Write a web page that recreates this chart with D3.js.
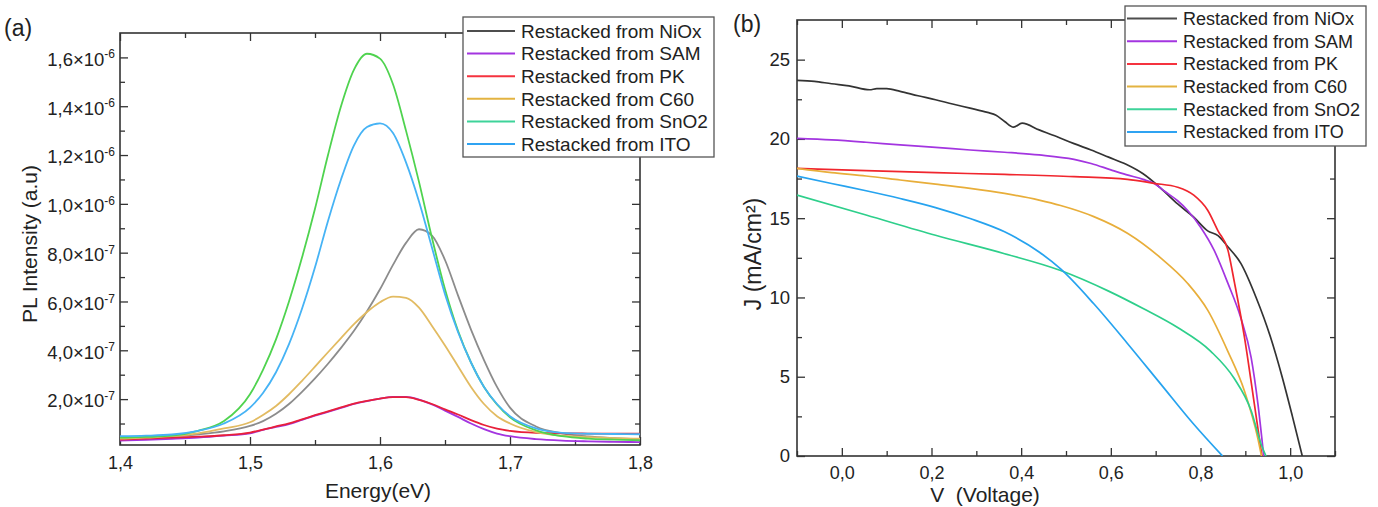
<!DOCTYPE html>
<html>
<head>
<meta charset="utf-8">
<script src="https://cdn.jsdelivr.net/npm/d3@7"></script>
<style>
  body { margin: 0; background: #fff; }
  svg text { font-family: 'Liberation Sans', Arial, sans-serif; fill: #222; }
</style>
</head>
<body>
<svg id="chart" width="1378" height="507"></svg>
<script>
'use strict'

// ---- data --------------------------------------------------------------
const seriesNames = ['Restacked from NiOx', 'Restacked from SAM', 'Restacked from PK',
  'Restacked from C60', 'Restacked from SnO2', 'Restacked from ITO']

// (a) PL spectra, intensity in units of 1e-7 a.u.
const energy = [1.40, 1.42, 1.44, 1.46, 1.48, 1.50, 1.51, 1.52, 1.53, 1.54, 1.55, 1.56, 1.57, 1.58, 1.59,
  1.60, 1.61, 1.62, 1.63, 1.64, 1.65, 1.66, 1.67, 1.68, 1.69, 1.70, 1.72, 1.74, 1.76, 1.78, 1.80]
const plNiOx = [0.38, 0.42, 0.48, 0.56, 0.68, 0.9, 1.1, 1.4, 1.8, 2.3, 2.85, 3.45, 4.1, 4.8, 5.6,
  6.5, 7.5, 8.4, 8.96, 8.7, 7.7, 6.25, 4.85, 3.6, 2.5, 1.65, 0.88, 0.6, 0.47, 0.4, 0.35]
const plSAM = [0.30, 0.33, 0.37, 0.42, 0.5, 0.6, 0.74, 0.86, 0.98, 1.15, 1.32, 1.48, 1.64, 1.8, 1.92,
  2.02, 2.09, 2.09, 1.98, 1.78, 1.53, 1.27, 1.0, 0.77, 0.59, 0.48, 0.36, 0.3, 0.27, 0.25, 0.24]
const plPK = [0.34, 0.38, 0.42, 0.46, 0.52, 0.63, 0.75, 0.88, 1.01, 1.17, 1.34, 1.5, 1.66, 1.82, 1.93,
  2.02, 2.08, 2.08, 1.97, 1.8, 1.58, 1.37, 1.14, 0.94, 0.79, 0.7, 0.62, 0.6, 0.59, 0.59, 0.59]
const plC60 = [0.38, 0.42, 0.48, 0.6, 0.8, 1.05, 1.35, 1.72, 2.2, 2.75, 3.33, 3.92, 4.5, 5.07, 5.57,
  5.97, 6.2, 6.15, 5.75, 5.0, 4.2, 3.35, 2.5, 1.8, 1.3, 1.0, 0.65, 0.5, 0.44, 0.4, 0.38]
const plSnO2 = [0.42, 0.45, 0.5, 0.7, 1.1, 2.2, 3.2, 4.45, 6.0, 7.8, 9.8, 12.0, 14.0, 15.5, 16.15,
  15.95, 14.9, 13.0, 10.9, 8.6, 6.5, 4.8, 3.5, 2.5, 1.78, 1.25, 0.72, 0.48, 0.38, 0.34, 0.31]
const plITO = [0.48, 0.5, 0.55, 0.7, 1.0, 1.65, 2.25, 3.1, 4.25, 5.7, 7.4, 9.3, 11.0, 12.4, 13.15,
  13.3, 12.9, 11.7, 10.1, 8.2, 6.3, 4.75, 3.5, 2.5, 1.8, 1.3, 0.8, 0.62, 0.58, 0.57, 0.56]

// (b) J-V curves, J in mA/cm2
const jvNiOxV = [-0.1, -0.061, -0.023, 0.016, 0.062, 0.078, 0.1, 0.13, 0.17, 0.209, 0.247, 0.286, 0.325, 0.344,
  0.363, 0.383, 0.402, 0.44, 0.479, 0.518, 0.556, 0.595, 0.634, 0.672, 0.711, 0.749, 0.785, 0.816, 0.839,
  0.861, 0.89, 0.924, 0.955, 0.982, 1.005, 1.027]
const jvNiOxJ = [23.69, 23.63, 23.48, 23.35, 23.1, 23.17, 23.17, 23.0, 22.72, 22.47, 22.2, 21.94, 21.67, 21.5,
  21.1, 20.74, 20.99, 20.57, 20.15, 19.7, 19.3, 18.85, 18.4, 17.8, 16.9, 15.9, 15.06, 14.2, 13.9,
  13.2, 12.15, 10.0, 7.6, 5.0, 2.5, 0]
const jvSAMV = [-0.1, -0.023, 0.054, 0.13, 0.209, 0.286, 0.363, 0.44, 0.518, 0.556, 0.6, 0.634, 0.672, 0.696,
  0.72, 0.749, 0.771, 0.801, 0.83, 0.861, 0.89, 0.913, 0.928, 0.941]
const jvSAMJ = [20.04, 19.94, 19.79, 19.62, 19.47, 19.3, 19.16, 18.99, 18.71, 18.45, 18.05, 17.75, 17.45, 17.2,
  16.7, 16.1, 15.5, 14.4, 13.0, 10.9, 8.7, 6.2, 3.3, 0]
const jvPKV = [-0.1, 0.054, 0.209, 0.363, 0.518, 0.637, 0.696, 0.749, 0.785, 0.816, 0.839, 0.861, 0.876,
  0.898, 0.92, 0.937]
const jvPKJ = [18.14, 18.0, 17.87, 17.76, 17.62, 17.45, 17.2, 16.95, 16.45, 15.5, 14.2, 13.0, 10.9,
  7.5, 3.3, 0]
const jvC60V = [-0.1, -0.023, 0.054, 0.13, 0.209, 0.286, 0.363, 0.44, 0.488, 0.562, 0.637, 0.711, 0.771,
  0.816, 0.861, 0.898, 0.928, 0.936]
const jvC60J = [18.14, 17.87, 17.66, 17.41, 17.15, 16.88, 16.56, 16.14, 15.8, 15.1, 14.05, 12.5, 10.9,
  9.2, 6.6, 4.1, 1.1, 0]
const jvSnO2V = [-0.1, 0.054, 0.209, 0.363, 0.488, 0.595, 0.672, 0.749, 0.823, 0.875, 0.913, 0.935, 0.946]
const jvSnO2J = [16.46, 15.2, 13.92, 12.76, 11.7, 10.4, 9.3, 8.1, 6.6, 4.9, 2.85, 0.76, 0]
const jvITOV = [-0.1, -0.023, 0.054, 0.13, 0.209, 0.286, 0.363, 0.44, 0.488, 0.562, 0.637, 0.711, 0.785, 0.849]
const jvITOJ = [17.66, 17.19, 16.73, 16.24, 15.67, 14.98, 14.14, 12.87, 11.8, 9.6, 7.1, 4.55, 2.0, 0]

// ticks
const plXTicks = [1.4, 1.5, 1.6, 1.7, 1.8]
const plXMinor = [1.45, 1.55, 1.65, 1.75]
const plYTicks = [2e-7, 4e-7, 6e-7, 8e-7, 1e-6, 1.2e-6, 1.4e-6, 1.6e-6]
const plYMinor = [1e-7, 3e-7, 5e-7, 7e-7, 9e-7, 1.1e-6, 1.3e-6, 1.5e-6]
const jvXTicks = [0, 0.2, 0.4, 0.6, 0.8, 1.0]
const jvXMinor = [-0.1, 0.1, 0.3, 0.5, 0.7, 0.9, 1.1]
const jvYTicks = [0, 5, 10, 15, 20, 25]
const jvYMinor = [2.5, 7.5, 12.5, 17.5, 22.5]

// ---- styles ------------------------------------------------------------
const legendColors = ['#4d4d4d', '#a335e0', '#f5333f', '#e3b341', '#3ed39a', '#2fa3f2']
const plColors = ['#8c8c8c', '#a335e0', '#e8203a', '#e2bb62', '#4fd34f', '#46b3f5']
const jvColors = ['#333333', '#a335e0', '#f0262e', '#e8ae3a', '#2ecf8b', '#26a3ef']

const svg = d3.select('#chart')
const comma = d => d3.format('.1f')(d).replace('.', ',')

function styleAxis (g) {
  g.attr('font-size', null).attr('font-family', null)
  g.select('.domain').remove()
  g.selectAll('.tick line').attr('stroke', '#333').attr('stroke-width', 1.3)
}

function frame (g, x, y, clipId, minorX, minorY, majorX, majorY) {
  const [x0, x1] = x.range()
  const [y0, y1] = y.range()

  g.append('g').attr('transform', `translate(0,${y0})`)
    .call(d3.axisBottom(x).tickValues(minorX).tickSize(-5).tickFormat('')).call(styleAxis)
  g.append('g').attr('transform', `translate(0,${y1})`)
    .call(d3.axisTop(x).tickValues(majorX).tickSize(-8).tickFormat('')).call(styleAxis)
  g.append('g').attr('transform', `translate(0,${y1})`)
    .call(d3.axisTop(x).tickValues(minorX).tickSize(-5).tickFormat('')).call(styleAxis)
  g.append('g').attr('transform', `translate(${x0},0)`)
    .call(d3.axisLeft(y).tickValues(minorY).tickSize(-5).tickFormat('')).call(styleAxis)
  g.append('g').attr('transform', `translate(${x1},0)`)
    .call(d3.axisRight(y).tickValues(majorY).tickSize(-8).tickFormat('')).call(styleAxis)
  g.append('g').attr('transform', `translate(${x1},0)`)
    .call(d3.axisRight(y).tickValues(minorY).tickSize(-5).tickFormat('')).call(styleAxis)

  g.append('rect')
    .attr('x', x0).attr('y', y1).attr('width', x1 - x0).attr('height', y0 - y1)
    .attr('fill', 'none').attr('stroke', '#333').attr('stroke-width', 1.6)

  svg.append('clipPath').attr('id', clipId)
    .append('rect').attr('x', x0).attr('y', y1).attr('width', x1 - x0).attr('height', y0 - y1)
}

function legend (g, box, rows) {
  const lg = g.append('g')
  lg.append('rect')
    .attr('x', box.x).attr('y', box.y).attr('width', box.w).attr('height', box.h)
    .attr('fill', '#fff').attr('stroke', '#555').attr('stroke-width', 1.3)

  const row = lg.selectAll('g.row').data(rows).enter().append('g')
    .attr('transform', (d, i) => `translate(0,${box.row0 + i * box.step})`)
  row.append('line')
    .attr('x1', box.line0).attr('x2', box.line1)
    .attr('stroke', d => d.color).attr('stroke-width', 2)
  row.append('text')
    .attr('x', box.text).attr('dy', '0.36em')
    .attr('font-size', box.font)
    .text(d => d.name)
}

// ---- (a) PL ------------------------------------------------------------
const plX = d3.scaleLinear().domain([1.4, 1.8]).range([120, 640])
const plY = d3.scaleLinear().domain([1.2e-8, 1.7e-6]).range([445, 33])
const plSeries = [plNiOx, plSAM, plPK, plC60, plSnO2, plITO]

const gA = svg.append('g')
frame(gA, plX, plY, 'clipA', plXMinor, plYMinor, plXTicks, plYTicks)

gA.append('g').attr('transform', 'translate(0,445)')
  .call(d3.axisBottom(plX).tickValues(plXTicks).tickSize(-8).tickPadding(11).tickFormat(comma))
  .call(styleAxis)
  .selectAll('text').attr('font-size', 18).attr('fill', '#222')

const yAxisA = gA.append('g').attr('transform', 'translate(120,0)')
  .call(d3.axisLeft(plY).tickValues(plYTicks).tickSize(-8).tickPadding(5))
  .call(styleAxis)
yAxisA.selectAll('.tick text').each(function (d) {
  const exp = Math.floor(Math.log10(d) + 1e-9)
  const mant = d / Math.pow(10, exp)
  const t = d3.select(this).text(null).attr('font-size', 18.5).attr('fill', '#222').attr('dy', '0.42em')
  t.append('tspan').text(`${comma(mant)}×10`)
  t.append('tspan').attr('dy', '-0.6em').attr('font-size', 12).text(String(exp))
})

const plLine = d3.line().curve(d3.curveMonotoneX)
gA.append('g').attr('clip-path', 'url(#clipA)')
  .selectAll('path').data(plSeries).enter().append('path')
  .attr('d', s => plLine(s.map((v, i) => [plX(energy[i]), plY(v * 1e-7)])))
  .attr('fill', 'none')
  .attr('stroke', (s, i) => plColors[i])
  .attr('stroke-width', 1.8)

legend(gA, { x: 463, y: 17, w: 251, h: 140, row0: 31, step: 22.6, line0: 467, line1: 515, text: 521, font: 19 },
  seriesNames.map((name, i) => ({ name, color: legendColors[i] })))

gA.append('text').attr('x', 378).attr('y', 498).attr('text-anchor', 'middle')
  .attr('font-size', 21).text('Energy(eV)')
gA.append('text').attr('transform', 'translate(37,244) rotate(-90)').attr('text-anchor', 'middle')
  .attr('font-size', 21).text('PL Intensity (a.u)')
gA.append('text').attr('x', 4).attr('y', 36).attr('font-size', 23).text('(a)')

// ---- (b) J-V -----------------------------------------------------------
const jvX = d3.scaleLinear().domain([-0.1, 1.1]).range([797, 1335])
const jvY = d3.scaleLinear().domain([0, 27.5]).range([456, 20])
const jvSeries = [[jvNiOxV, jvNiOxJ], [jvSAMV, jvSAMJ], [jvPKV, jvPKJ],
  [jvC60V, jvC60J], [jvSnO2V, jvSnO2J], [jvITOV, jvITOJ]]

const gB = svg.append('g')
frame(gB, jvX, jvY, 'clipB', jvXMinor, jvYMinor, jvXTicks, jvYTicks)

gB.append('g').attr('transform', 'translate(0,456)')
  .call(d3.axisBottom(jvX).tickValues(jvXTicks).tickSize(-8).tickPadding(10).tickFormat(comma))
  .call(styleAxis)
  .selectAll('text').attr('font-size', 18).attr('fill', '#222')

gB.append('g').attr('transform', 'translate(797,0)')
  .call(d3.axisLeft(jvY).tickValues(jvYTicks).tickSize(-8).tickPadding(7))
  .call(styleAxis)
  .selectAll('text').attr('font-size', 18.5).attr('fill', '#222')

const jvLine = d3.line().curve(d3.curveMonotoneX)
gB.append('g').attr('clip-path', 'url(#clipB)')
  .selectAll('path').data(jvSeries).enter().append('path')
  .attr('d', ([v, j]) => jvLine(v.map((vv, i) => [jvX(vv), jvY(j[i])])))
  .attr('fill', 'none')
  .attr('stroke', (s, i) => jvColors[i])
  .attr('stroke-width', 1.7)

legend(gB, { x: 1125, y: 6, w: 241, h: 140, row0: 18.5, step: 22.7, line0: 1127, line1: 1177, text: 1183, font: 18 },
  seriesNames.map((name, i) => ({ name, color: legendColors[i] })))

gB.append('text').attr('x', 985).attr('y', 502).attr('text-anchor', 'middle')
  .attr('font-size', 21).style('white-space', 'pre').text('V  (Voltage)')
gB.append('text').attr('transform', 'translate(761,254) rotate(-90)').attr('text-anchor', 'middle')
  .attr('font-size', 23).text('J (mA/cm²)')
gB.append('text').attr('x', 733).attr('y', 32).attr('font-size', 23).text('(b)')
</script>
</body>
</html>
